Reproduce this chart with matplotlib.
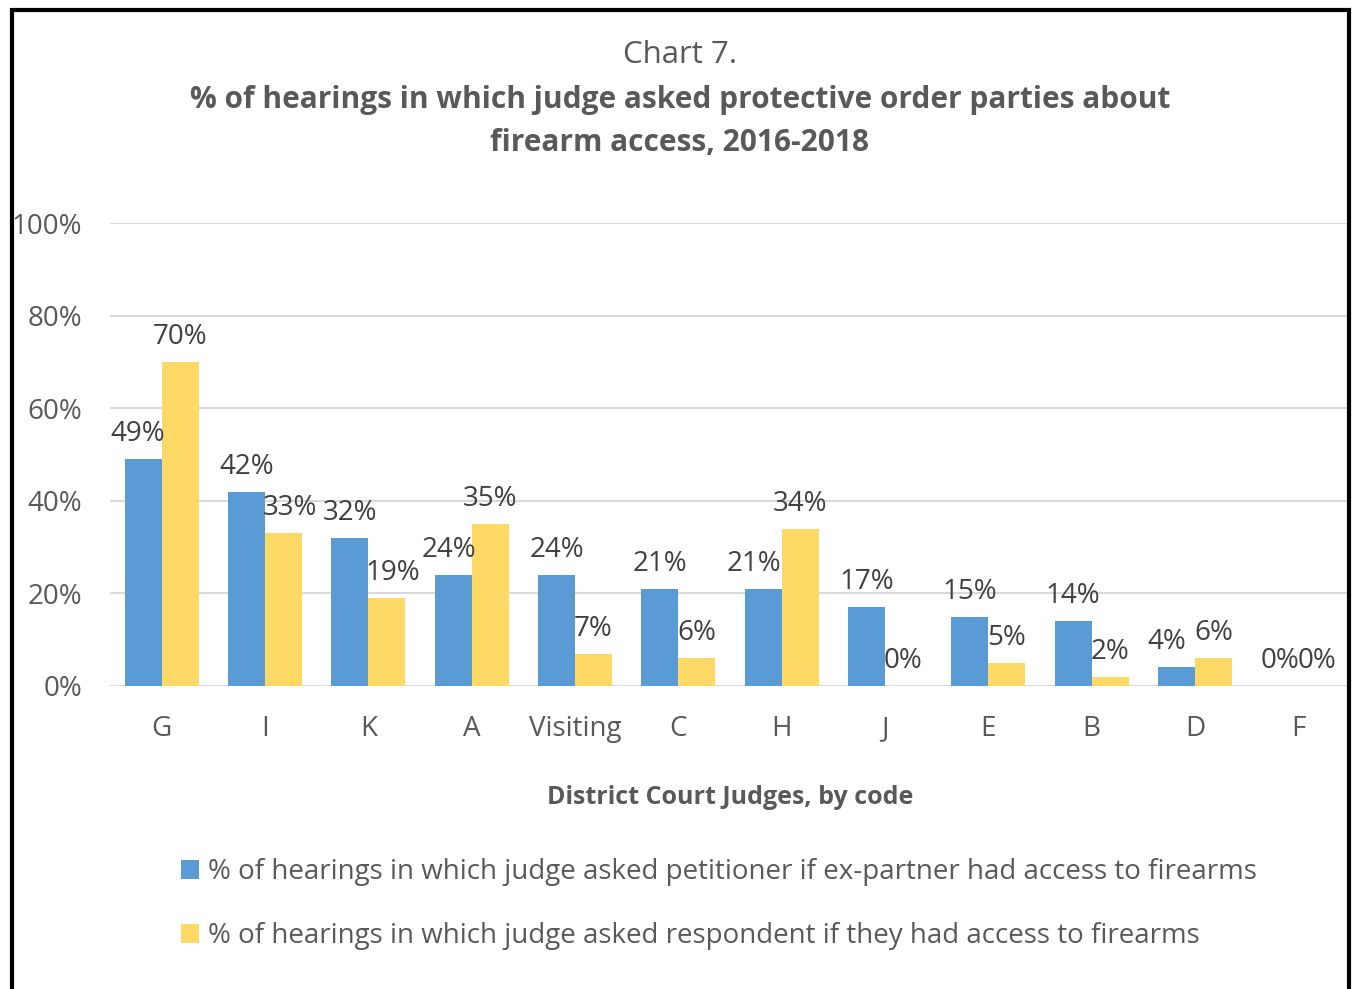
import matplotlib
matplotlib.use("Agg")
import matplotlib.pyplot as plt
from matplotlib.patches import Rectangle, Patch
import numpy as np

plt.rcParams['font.family'] = ['Open Sans', 'DejaVu Sans']

judges = ["G", "I", "K", "A", "Visiting", "C", "H", "J", "E", "B", "D", "F"]
petitioner = [49, 42, 32, 24, 24, 21, 21, 17, 15, 14, 4, 0]
respondent = [70, 33, 19, 35, 7, 6, 34, 0, 5, 2, 6, 0]
series_names = [
    "% of hearings in which judge asked petitioner if ex-partner had access to firearms",
    "% of hearings in which judge asked respondent if they had access to firearms",
]
yticks = [0, 20, 40, 60, 80, 100]

BLUE = "#5B9BD5"
YELLOW = "#FFD966"
GRAY = "#595959"
DARK = "#404040"
GRID = "#D9D9D9"
FS = 20

W, H = 1356, 989
fig = plt.figure(figsize=(W / 100, H / 100), dpi=100)
ax = fig.add_axes([110 / W, (H - 686) / H, 1240 / W, 463 / H])

x = np.arange(len(judges))
bw = 0.358
b1 = ax.bar(x - bw / 2, petitioner, bw, color=BLUE, zorder=3)
b2 = ax.bar(x + bw / 2, respondent, bw, color=YELLOW, zorder=3)

ax.set_xlim(-0.5, len(judges) - 0.5)
ax.set_ylim(0, 100)
ax.set_yticks(yticks)
ax.set_yticklabels([f"{t}%" for t in yticks], color=GRAY, fontsize=FS)
ax.set_xticks(x)
ax.set_xticklabels(judges, color=GRAY, fontsize=FS)
ax.tick_params(axis='both', length=0)
ax.tick_params(axis='y', pad=20)
ax.tick_params(axis='x', pad=21)
for s in ax.spines.values():
    s.set_visible(False)
ax.grid(axis='y', color=GRID, linewidth=1.5, zorder=0)
ax.set_axisbelow(True)

# data labels (small horizontal nudges mimic Excel's label placement)
nudge_blue = {0: -4, 3: -3, 6: -7, 10: -7}
for i, (bar, v) in enumerate(zip(b1, petitioner)):
    ax.annotate(f"{v}%", (bar.get_x() + bar.get_width() / 2, v),
                xytext=(nudge_blue.get(i, 0), 18), textcoords='offset points',
                ha='center', va='center', color=DARK, fontsize=FS)
nudge_yel = {1: 5, 2: 4}
for i, (bar, v) in enumerate(zip(b2, respondent)):
    ax.annotate(f"{v}%", (bar.get_x() + bar.get_width() / 2, v),
                xytext=(nudge_yel.get(i, 0), 18), textcoords='offset points',
                ha='center', va='center', color=DARK, fontsize=FS)

fig.text(730 / W, 1 - 797 / H, "District Court Judges, by code", color=GRAY,
         fontsize=18, fontweight='bold', ha='center', va='center')

# titles
fig.text(680 / W, 1 - 55 / H, "Chart 7.", ha='center', va='center',
         color=GRAY, fontsize=22.5)
fig.text(680 / W, 1 - 100 / H,
         "% of hearings in which judge asked protective order parties about",
         ha='center', va='center', color=GRAY, fontsize=21.5, fontweight='bold')
fig.text(680 / W, 1 - 143 / H, "firearm access, 2016-2018",
         ha='center', va='center', color=GRAY, fontsize=21.5, fontweight='bold')

# legend
handles = [Patch(facecolor=BLUE, edgecolor='none'), Patch(facecolor=YELLOW, edgecolor='none')]
leg = fig.legend(handles, series_names, loc='upper left',
                 bbox_to_anchor=(159 / W, 1 - 836 / H), frameon=False,
                 fontsize=FS, labelcolor=GRAY, handlelength=0.65,
                 handleheight=0.65, handletextpad=0.3, labelspacing=1.3,
                 borderpad=0.3)

# outer border
fig.patches.append(Rectangle((12 / W, -0.1), (1349 - 12) / W, 1.1 - 10 / H,
                             transform=fig.transFigure, fill=False,
                             edgecolor='black', linewidth=3, zorder=10))

fig.savefig("out.png", dpi=100)
